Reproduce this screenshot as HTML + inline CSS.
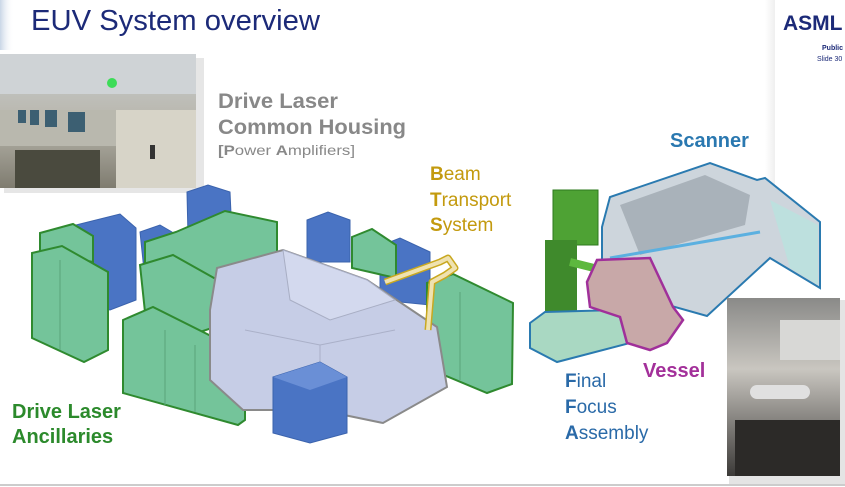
<!DOCTYPE html>
<html><head><meta charset="utf-8"><style>
html,body{margin:0;padding:0;background:#fff;}
svg{display:block;}
text{font-family:"Liberation Sans",Arial,sans-serif;}
</style></head><body>
<svg width="845" height="487" viewBox="0 0 845 487" xmlns="http://www.w3.org/2000/svg">
<defs>
<linearGradient id="lb" x1="0" x2="1"><stop offset="0" stop-color="#c9d6e6"/><stop offset="1" stop-color="#fff" stop-opacity="0"/></linearGradient>
<linearGradient id="rb" x1="0" x2="1"><stop offset="0" stop-color="#fff"/><stop offset="1" stop-color="#e4e4e4"/></linearGradient>
<linearGradient id="ph1" x1="0" y1="0" x2="0" y2="1"><stop offset="0" stop-color="#c9cdd0"/><stop offset="0.5" stop-color="#b8b6ac"/><stop offset="1" stop-color="#7f7c70"/></linearGradient>
<linearGradient id="ph2" x1="0" y1="0" x2="0" y2="1"><stop offset="0" stop-color="#8a8a88"/><stop offset="0.4" stop-color="#c9c6c0"/><stop offset="1" stop-color="#3c3a38"/></linearGradient>
</defs>
<rect x="0" y="0" width="14" height="50" fill="url(#lb)"/>
<rect x="765" y="0" width="10" height="200" fill="url(#rb)" opacity="0.6"/>
<text x="31" y="30" font-size="29" fill="#1c2a78" textLength="289" lengthAdjust="spacingAndGlyphs">EUV System overview</text>
<text x="783" y="30" font-size="21" font-weight="bold" fill="#1c2a78">ASML</text>
<text x="822" y="50" font-size="7" font-weight="bold" fill="#1c2a78">Public</text>
<text x="817" y="61" font-size="7" fill="#1c2a78">Slide 30</text>

<!-- top-left photo -->
<rect x="4" y="58" width="200" height="135" fill="#e6e6e6"/>
<rect x="0" y="54" width="196" height="134" fill="url(#ph1)"/>
<rect x="0" y="54" width="196" height="40" fill="#cfd3d6"/>
<rect x="116" y="110" width="80" height="78" fill="#d7d4c8"/>
<rect x="0" y="110" width="116" height="36" fill="#b9b8ae"/>
<rect x="68" y="112" width="17" height="20" fill="#3c5f72"/>
<rect x="45" y="110" width="12" height="17" fill="#3c5f72"/>
<rect x="30" y="110" width="9" height="15" fill="#3c5f72"/>
<rect x="18" y="110" width="8" height="13" fill="#3c5f72"/>
<rect x="15" y="150" width="85" height="38" fill="#4a4a3e"/>
<circle cx="112" cy="83" r="5" fill="#3ddc58"/>
<rect x="150" y="145" width="5" height="14" fill="#333"/>

<!-- labels left -->
<text x="218" y="108" font-size="21" font-weight="bold" fill="#888" textLength="120" lengthAdjust="spacingAndGlyphs">Drive Laser</text>
<text x="218" y="134" font-size="21" font-weight="bold" fill="#888" textLength="188" lengthAdjust="spacingAndGlyphs">Common Housing</text>
<text x="218" y="155" font-size="14" fill="#888" textLength="137" lengthAdjust="spacingAndGlyphs"><tspan font-weight="bold">[P</tspan>ower <tspan font-weight="bold">A</tspan>mplifiers]</text>

<!-- blue boxes back -->
<polygon points="187,192 208,185 230,192 232,236 208,242 188,236" fill="#4a74c4" stroke="#3b63ad"/>
<polygon points="72,226 120,214 136,228 136,300 110,310 88,304" fill="#4a74c4" stroke="#3b63ad"/>
<polygon points="140,232 160,225 172,232 172,270 145,280" fill="#4a74c4" stroke="#3b63ad"/>
<polygon points="307,220 328,212 350,220 350,262 307,262" fill="#4a74c4" stroke="#3b63ad"/>
<polygon points="380,246 400,238 430,252 430,305 380,300" fill="#4a74c4" stroke="#3b63ad"/>

<!-- green boxes -->
<g fill="#74c49a" stroke="#2f8a2f" stroke-width="2">
<polygon points="40,233 73,224 93,236 93,262 40,252"/>
<polygon points="32,253 62,246 108,272 108,350 84,362 32,338"/>
<polygon points="145,242 176,232 225,211 277,222 277,262 230,285 145,270"/>
<polygon points="140,265 173,255 230,287 230,322 200,332 145,312"/>
<polygon points="123,320 153,307 245,353 245,420 238,425 123,393"/>
<polygon points="352,237 372,229 396,245 396,278 352,268"/>
<polygon points="427,283 453,274 513,303 512,384 487,393 427,368"/>
</g>
<g stroke="#5aa47a" stroke-width="1" fill="none">
<line x1="165" y1="330" x2="165" y2="405"/><line x1="195" y1="345" x2="195" y2="412"/>
<line x1="460" y1="292" x2="460" y2="380"/><line x1="60" y1="260" x2="60" y2="350"/>
</g>

<!-- central machine -->
<polygon points="217,268 283,250 367,280 437,327 447,387 383,423 320,410 243,410 210,380 210,310" fill="#c6cde6" stroke="#8a8a8a" stroke-width="2"/>
<polygon points="283,250 367,280 395,300 330,320 290,300" fill="#d3d9ee" stroke="#a8aec4"/>
<line x1="320" y1="345" x2="320" y2="410" stroke="#aab0c8"/>
<line x1="245" y1="330" x2="320" y2="345" stroke="#aab0c8"/>
<line x1="320" y1="345" x2="395" y2="330" stroke="#aab0c8"/>

<!-- front blue box -->
<polygon points="273,377 320,362 347,377 347,433 310,443 273,433" fill="#4a74c4" stroke="#3b63ad"/>
<polygon points="273,377 320,362 347,377 310,390" fill="#6a8fd6"/>

<!-- beam transport -->
<path d="M385,282 L440,262 L448,258 L455,268 L445,275 L432,282 L428,330" fill="none" stroke="#c9a820" stroke-width="7" stroke-linejoin="round"/>
<path d="M385,282 L440,262 L448,258 L455,268 L445,275 L432,282 L428,330" fill="none" stroke="#efe2b0" stroke-width="4" stroke-linejoin="round"/>
<text x="430" y="180" font-size="19" fill="#c39a0e"><tspan font-weight="bold">B</tspan>eam</text>
<text x="430" y="206" font-size="19" fill="#c39a0e"><tspan font-weight="bold">T</tspan>ransport</text>
<text x="430" y="231" font-size="19" fill="#c39a0e"><tspan font-weight="bold">S</tspan>ystem</text>

<!-- scanner -->
<polygon points="602,227 610,197 710,163 757,180 765,178 820,222 820,288 770,258 707,316 650,300 602,262" fill="#cdd5dc" stroke="#2a7ab0" stroke-width="2"/>
<polygon points="620,205 705,175 750,195 745,225 640,255" fill="#9aa3ab" opacity="0.7"/>
<polygon points="770,200 818,225 818,285 790,268" fill="#bde0de"/>
<line x1="610" y1="258" x2="760" y2="232" stroke="#5bb0e0" stroke-width="3"/>
<text x="670" y="147" font-size="20" font-weight="bold" fill="#2a78b0">Scanner</text>

<!-- green tower -->
<rect x="553" y="190" width="45" height="55" fill="#4ea234" stroke="#2d7a1e"/>
<rect x="545" y="240" width="32" height="85" fill="#3f8a2c"/>
<path d="M570,262 L610,272" stroke="#5db83e" stroke-width="8"/>

<!-- FFA plate -->
<polygon points="530,323 545,312 617,310 630,343 557,362 530,348" fill="#a9d8c2" stroke="#2a7ab0" stroke-width="2"/>

<!-- vessel -->
<polygon points="590,307 587,282 597,260 650,258 673,307 683,320 667,343 650,350 627,343 620,317" fill="#c8a8a8" stroke="#a0309a" stroke-width="2.5"/>
<text x="643" y="377" font-size="20" font-weight="bold" fill="#a3309a">Vessel</text>

<text x="565" y="387" font-size="19" fill="#2a6aa8"><tspan font-weight="bold">F</tspan>inal</text>
<text x="565" y="413" font-size="19" fill="#2a6aa8"><tspan font-weight="bold">F</tspan>ocus</text>
<text x="565" y="439" font-size="19" fill="#2a6aa8"><tspan font-weight="bold">A</tspan>ssembly</text>

<text x="12" y="418" font-size="20" font-weight="bold" fill="#2c8a2c">Drive Laser</text>
<text x="12" y="443" font-size="20" font-weight="bold" fill="#2c8a2c">Ancillaries</text>

<!-- right photo -->
<rect x="729" y="300" width="116" height="184" fill="#e4e4e4"/>
<rect x="727" y="298" width="113" height="178" fill="url(#ph2)"/>
<rect x="780" y="320" width="60" height="40" fill="#d8d8d6"/>
<rect x="750" y="385" width="60" height="14" rx="7" fill="#e0e0e0"/>
<rect x="735" y="420" width="105" height="56" fill="#2c2a28"/>

<line x1="0" y1="485" x2="845" y2="485" stroke="#bbb" stroke-width="1.5"/>
</svg>
</body></html>
